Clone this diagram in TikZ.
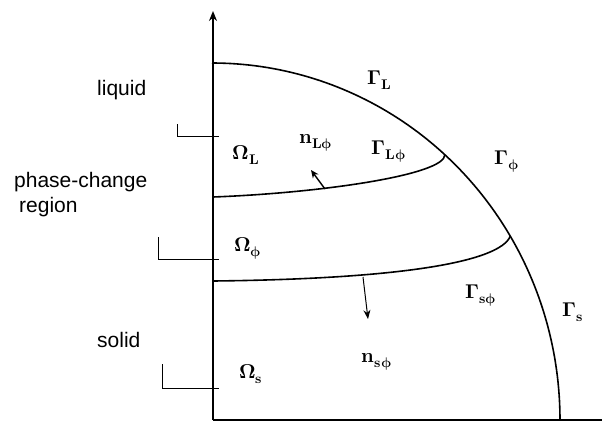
\documentclass[tikz,border=0pt]{standalone}
\usepackage{fontspec}
\usepackage{unicode-math}
\newfontfamily\lsans{Liberation Sans}
\usetikzlibrary{arrows.meta}
\newcommand{\bsub}[1]{\symbf{#1}}
\newcommand{\bph}{\symbfup{\phi}}
\begin{document}
\begin{tikzpicture}[x=1pt,y=-1pt,
  every node/.style={inner sep=0pt},
  lab/.style={font=\fontsize{20}{23}\selectfont},
  side/.style={font=\lsans\fontsize{21}{24}\selectfont, align=left, anchor=west},
  curve/.style={line width=1.6pt},
  tickline/.style={line width=0.8pt},
  normal/.style={line width=1.4pt,-{Stealth[length=8pt,width=7pt]}}]
\useasboundingbox (0,0) rectangle (606,429);
% key points
\coordinate (O) at (213,420);
\coordinate (top) at (213,11);
\coordinate (xend) at (602,420);
\coordinate (J1) at (444.9,154.7);
\coordinate (J2) at (510.3,236.1);
\coordinate (A1) at (213,197);
\coordinate (A2) at (213,281);
% axes
\draw[curve,-{Stealth[length=10pt,width=8pt]}] (O) -- (top);
\draw[curve] (O) -- (xend);
% outer boundary
\draw[curve] plot[domain=90:0,samples=90] ({212+348*cos(\x)},{420-357*sin(\x)});
% interfaces
\draw[curve] (A1) .. controls (320,193) and (445,175) .. (J1);
\draw[curve] (A2) .. controls (400,279) and (500,262) .. (J2);
% normals
\coordinate (n1s) at (325,189);
\coordinate (n1e) at (311,170);
\coordinate (n2s) at (363,277);
\coordinate (n2e) at (368,319);
\draw[normal] (n1s) -- (n1e);
\draw[line width=1pt,-{Stealth[length=9pt,width=7pt]}] (n2s) -- (n2e);
% brackets
\coordinate (b1a) at (177,124); \coordinate (b1b) at (177,136); \coordinate (b1c) at (219,136);
\coordinate (b2a) at (158,237); \coordinate (b2b) at (158,259); \coordinate (b2c) at (219,259);
\coordinate (b3a) at (162,364); \coordinate (b3b) at (162,388); \coordinate (b3c) at (219,388);
\draw[tickline] (b1a) -- (b1b) -- (b1c);
\draw[tickline] (b2a) -- (b2b) -- (b2c);
\draw[tickline] (b3a) -- (b3b) -- (b3c);
% side labels
\node[side] (liq) at (97,90) {liquid};
\node[side] (pcr) at (14,182) {phase-change};
\node[side] (reg) at (19,207) {region};
\node[side] (sol) at (97,340) {solid};
% math labels
\node[lab] (GL) at (380,80) {$\symbf{\Gamma}_{\bsub{L}}$};
\node[lab] (OL) at (246,155) {$\symbf{\Omega}_{\bsub{L}}$};
\node[lab] (nL) at (316,143) {$\symbf{n}_{\bsub{L}\bph}$};
\node[lab] (GLp) at (389,152) {$\symbf{\Gamma}_{\bsub{L}\bph}$};
\node[lab] (Gp) at (507,162) {$\symbf{\Gamma}_{\bph}$};
\node[lab] (Op) at (248,248) {$\symbf{\Omega}_{\bph}$};
\node[lab] (Gsp) at (481,296) {$\symbf{\Gamma}_{\bsub{s}\bph}$};
\node[lab] (Gs) at (573,312) {$\symbf{\Gamma}_{\bsub{s}}$};
\node[lab] (ns) at (377,362) {$\symbf{n}_{\bsub{s}\bph}$};
\node[lab] (Os) at (251,374) {$\symbf{\Omega}_{\bsub{s}}$};
\end{tikzpicture}
\end{document}
